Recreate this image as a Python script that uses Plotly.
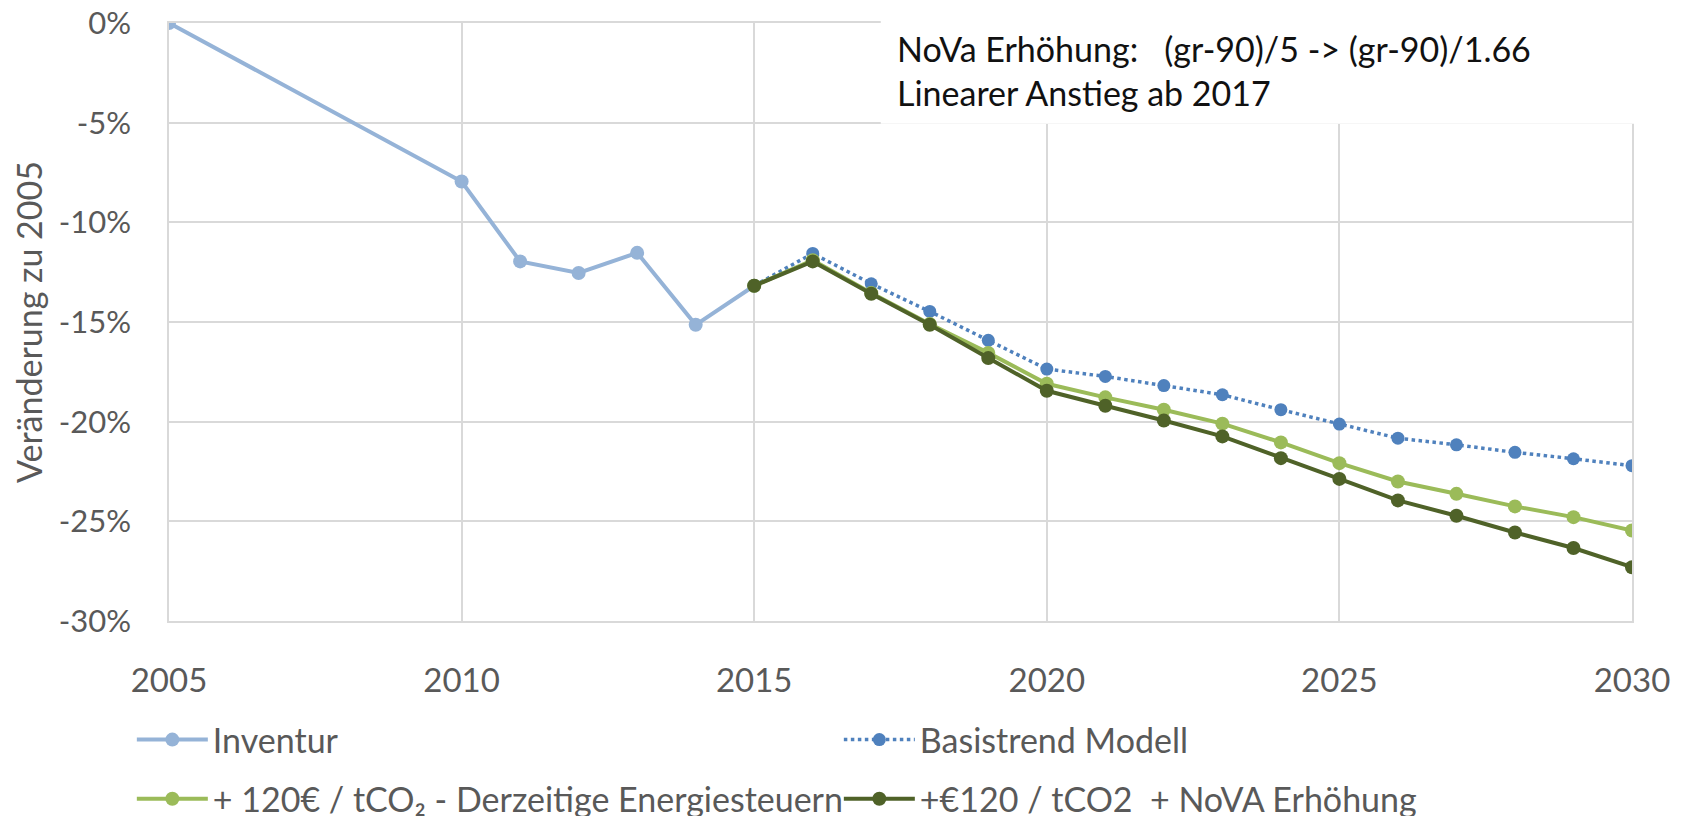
import plotly.graph_objects as go

# Werte in Prozent
years_inv = [2005, 2010, 2011, 2012, 2013, 2014, 2015]
inventur = [0.0, -7.95, -11.96, -12.54, -11.53, -15.14, -13.18]

years_proj = list(range(2015, 2031))
basistrend = [-13.18, -11.56, -13.08, -14.47, -15.92, -17.36, -17.73, -18.19,
              -18.65, -19.40, -20.12, -20.83, -21.16, -21.54, -21.86, -22.21]
co2_120 = [-13.18, -11.90, -13.55, -15.10, -16.55, -18.10, -18.78, -19.40,
           -20.10, -21.04, -22.08, -23.00, -23.62, -24.25, -24.79, -25.46]
co2_nova = [-13.18, -11.96, -13.58, -15.14, -16.81, -18.45, -19.20, -19.94,
            -20.74, -21.83, -22.87, -23.95, -24.72, -25.56, -26.34, -27.30]

x_ticks = [2005, 2010, 2015, 2020, 2025, 2030]
y_ticks = [0, -0.05, -0.10, -0.15, -0.20, -0.25, -0.30]
y_ticktext = ['0%', '-5%', '-10%', '-15%', '-20%', '-25%', '-30%']

FONT = 'Lato'
GRID = '#D9D9D9'
TXT = '#595959'


def pct(vals):
    return [v / 100 for v in vals]


fig = go.Figure()
fig.add_trace(go.Scatter(
    x=years_inv, y=pct(inventur), mode='lines+markers', name='Inventur',
    line=dict(color='#95B3D7', width=4), marker=dict(size=14, color='#95B3D7'),
    legend='legend',
))
fig.add_trace(go.Scatter(
    x=years_proj, y=pct(basistrend), mode='lines+markers', name='Basistrend Modell',
    line=dict(color='#4F81BD', width=3.5, dash='dot'), marker=dict(size=13, color='#4F81BD'),
    legend='legend',
))
fig.add_trace(go.Scatter(
    x=years_proj, y=pct(co2_120), mode='lines+markers',
    name='+ 120€ / tCO₂ - Derzeitige Energiesteuern',
    line=dict(color='#9BBB59', width=4), marker=dict(size=14, color='#9BBB59'),
    legend='legend2',
))
fig.add_trace(go.Scatter(
    x=years_proj, y=pct(co2_nova), mode='lines+markers',
    name='+€120 / tCO2 &nbsp;+ NoVA Erhöhung',
    line=dict(color='#4F6228', width=4), marker=dict(size=14, color='#4F6228'),
    legend='legend2',
))

# weisser Kasten hinter dem Hinweistext
fig.add_shape(type='rect', xref='paper', yref='paper', x0=0.4865, x1=1.06, y0=0.8315, y1=1.06,
              fillcolor='white', line_width=0, layer='above')
fig.add_annotation(xref='paper', yref='paper', x=0.4965, y=0.958, xanchor='left', yanchor='middle',
                   text='NoVa Erhöhung: &nbsp; (gr-90)/5 -&gt; (gr-90)/1.66', showarrow=False,
                   font=dict(family=FONT, size=34, color='#111111'))
fig.add_annotation(xref='paper', yref='paper', x=0.4965, y=0.883, xanchor='left', yanchor='middle',
                   text='Linearer Anstieg ab 2017', showarrow=False,
                   font=dict(family=FONT, size=34, color='#111111'))

legend_common = dict(orientation='h', xanchor='left', yanchor='middle', entrywidth=621,
                     font=dict(family=FONT, size=34, color=TXT), bgcolor='rgba(0,0,0,0)',
                     itemwidth=71)

# die Seite hat 8 px Rand, daher links/oben etwas weniger Margin
fig.update_layout(
    width=1688, height=816,
    margin=dict(l=161, r=64, t=15, b=203, autoexpand=False),
    paper_bgcolor='white', plot_bgcolor='white',
    font=dict(family=FONT, color=TXT),
    legend=dict(x=-0.0254, y=-0.199, **legend_common),
    legend2=dict(x=-0.0254, y=-0.298, **legend_common),
    xaxis=dict(range=[2005, 2030], tickvals=x_ticks, showgrid=True, gridcolor=GRID, gridwidth=1.5,
               zeroline=False, showline=True, linecolor=GRID, linewidth=1.5, mirror=True,
               tickfont=dict(family=FONT, size=33, color=TXT), ticklabelstandoff=30,
               ticklabeloverflow='allow'),
    yaxis=dict(range=[-0.30, 0], tickvals=y_ticks, ticktext=y_ticktext, showgrid=True,
               gridcolor=GRID, gridwidth=1.5, zeroline=False, showline=True, linecolor=GRID,
               linewidth=1.5, mirror=True, tickfont=dict(family=FONT, size=31, color=TXT),
               ticklabelstandoff=30, ticklabeloverflow='allow',
               title=dict(text='Veränderung zu 2005', standoff=7,
                          font=dict(family=FONT, size=34, color=TXT))),
)

fig.write_html('out.html')
